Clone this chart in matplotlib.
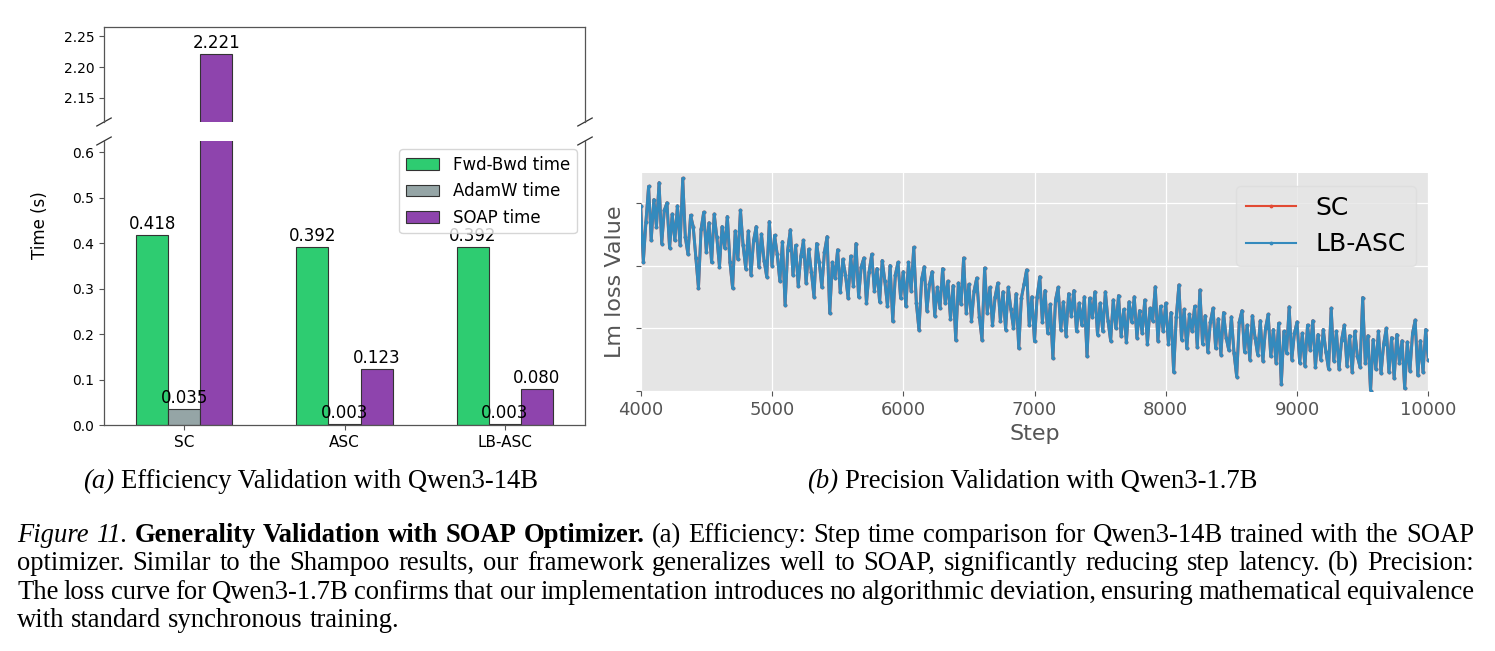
import matplotlib
matplotlib.use("Agg")
import matplotlib.pyplot as plt
import numpy as np

# ---------------- data ----------------
methods = ["SC", "ASC", "LB-ASC"]
series_names = ["Fwd-Bwd time", "AdamW time", "SOAP time"]
fwd_bwd_time = [0.418, 0.392, 0.392]
adamw_time = [0.035, 0.003, 0.003]
soap_time = [2.221, 0.123, 0.080]
bar_colors = ["#2ecc71", "#95a5a6", "#8e44ad"]

steps = list(range(4000, 10001, 20))
lb_asc_loss = [
    2.295, 2.206, 2.270, 2.326, 2.240, 2.305, 2.262, 2.332, 2.235, 2.288,
    2.300, 2.228, 2.282, 2.240, 2.295, 2.232, 2.339, 2.245, 2.218, 2.280,
    2.262, 2.212, 2.164, 2.258, 2.285,
    2.222, 2.268, 2.205, 2.282, 2.245, 2.198, 2.262, 2.228, 2.278, 2.205,
    2.164, 2.255, 2.210, 2.288, 2.232, 2.195, 2.255, 2.185, 2.240, 2.262,
    2.198, 2.250, 2.208, 2.182, 2.270,
    2.200, 2.248, 2.218, 2.175, 2.238, 2.137, 2.225, 2.257, 2.185, 2.232,
    2.168, 2.215, 2.240, 2.172, 2.226, 2.190, 2.150, 2.235, 2.205, 2.165,
    2.222, 2.246, 2.124, 2.205, 2.180,
    2.225, 2.158, 2.210, 2.185, 2.148, 2.215, 2.168, 2.235, 2.150, 2.198,
    2.212, 2.140, 2.190, 2.218, 2.160, 2.195, 2.142, 2.208, 2.175, 2.135,
    2.200, 2.111, 2.185, 2.205, 2.148,
    2.190, 2.135, 2.205, 2.160, 2.229, 2.140, 2.097, 2.178, 2.198, 2.128,
    2.170, 2.190, 2.120, 2.165, 2.132, 2.195, 2.140, 2.175, 2.115, 2.168,
    2.081, 2.172, 2.138, 2.212, 2.125,
    2.170, 2.112, 2.160, 2.180, 2.118, 2.081, 2.196, 2.125, 2.165, 2.105,
    2.150, 2.172, 2.112, 2.158, 2.098, 2.165, 2.130, 2.100, 2.155, 2.068,
    2.148, 2.170, 2.193, 2.105, 2.150,
    2.079, 2.150, 2.182, 2.110, 2.160, 2.092, 2.138, 2.052, 2.145, 2.165,
    2.098, 2.142, 2.088, 2.155, 2.120, 2.160, 2.095, 2.140, 2.105, 2.150,
    2.055, 2.148, 2.118, 2.158, 2.090,
    2.140, 2.095, 2.158, 2.112, 2.080, 2.145, 2.100, 2.152, 2.088, 2.130,
    2.078, 2.142, 2.110, 2.150, 2.085, 2.128, 2.092, 2.145, 2.075, 2.132,
    2.112, 2.166, 2.080, 2.135, 2.095,
    2.140, 2.075, 2.125, 2.030, 2.118, 2.169, 2.082, 2.130, 2.068, 2.122,
    2.095, 2.135, 2.070, 2.161, 2.075, 2.120, 2.062, 2.110, 2.132, 2.068,
    2.115, 2.058, 2.125, 2.085, 2.065,
    2.118, 2.060, 2.023, 2.110, 2.128, 2.062, 2.105, 2.050, 2.120, 2.085,
    2.058, 2.112, 2.048, 2.100, 2.122, 2.055, 2.098, 2.045, 2.108, 2.011,
    2.095, 2.060, 2.134, 2.050, 2.092,
    2.110, 2.045, 2.092, 2.040, 2.105, 2.065, 2.112, 2.038, 2.090, 2.050,
    2.098, 2.062, 2.035, 2.132, 2.048, 2.095, 2.035, 2.082, 2.105, 2.040,
    2.088, 2.030, 2.095, 2.055, 2.038,
    2.149, 2.045, 2.088, 2.000, 2.082, 2.035, 2.095, 2.028, 2.075, 2.100,
    2.030, 2.085, 2.020, 2.090, 2.045, 2.080, 2.004, 2.078, 2.032, 2.092,
    2.113, 2.025, 2.080, 2.030, 2.098, 2.050,
]
sc_loss = list(lb_asc_loss)
loss_xticks = [4000, 5000, 6000, 7000, 8000, 9000, 10000]
loss_yticks = [2.0, 2.1, 2.2, 2.3]

subcaption_a = [("(a)", "i"), ("Efficiency Validation with Qwen3-14B", "r")]
subcaption_b = [("(b)", "i"), ("Precision Validation with Qwen3-1.7B", "r")]
caption_lines = [
    [("Figure", "i"), ("11.", "i"), ("Generality", "b"), ("Validation", "b"), ("with", "b"),
     ("SOAP", "b"), ("Optimizer.", "b")] +
    [(w, "r") for w in "(a) Efficiency: Step time comparison for Qwen3-14B trained with the SOAP".split()],
    [(w, "r") for w in ("optimizer. Similar to the Shampoo results, our framework generalizes well to SOAP, "
                        "significantly reducing step latency. (b) Precision:").split()],
    [(w, "r") for w in ("The loss curve for Qwen3-1.7B confirms that our implementation introduces no "
                        "algorithmic deviation, ensuring mathematical equivalence").split()],
    [(w, "r") for w in "with standard synchronous training.".split()],
]

# ---------------- figure ----------------
W, H = 1495, 651
fig = plt.figure(figsize=(W / 100, H / 100), dpi=100)
fig.patch.set_facecolor("white")

def fx(px):
    return px / W

def fy(py):
    return 1 - py / H

spine_col = "#555555"
ax_top = fig.add_axes([fx(104), fy(122), fx(585) - fx(104), fy(26.7) - fy(122)])
ax_bot = fig.add_axes([fx(104), fy(425.3), fx(585) - fx(104), fy(141) - fy(425.3)])

x = np.arange(len(methods))
width = 0.2
all_series = [fwd_bwd_time, adamw_time, soap_time]
for ax in (ax_top, ax_bot):
    for i, (vals, col, name) in enumerate(zip(all_series, bar_colors, series_names)):
        ax.bar(x + (i - 1) * width, vals, width, color=col, edgecolor="#333333",
               linewidth=0.8, label=name)
    ax.set_xlim(-0.5, 2.5)
    for s in ax.spines.values():
        s.set_color(spine_col)
        s.set_linewidth(0.9)

ax_top.set_ylim(2.11, 2.266)
ax_bot.set_ylim(0, 0.625)
ax_top.set_yticks([2.15, 2.20, 2.25])
ax_top.set_yticklabels(["%.2f" % v for v in [2.15, 2.20, 2.25]], fontsize=10)
ax_bot.set_yticks([0.0, 0.1, 0.2, 0.3, 0.4, 0.5, 0.6])
ax_bot.set_yticklabels(["%.1f" % v for v in [0.0, 0.1, 0.2, 0.3, 0.4, 0.5, 0.6]], fontsize=10)
ax_top.spines["bottom"].set_visible(False)
ax_bot.spines["top"].set_visible(False)
ax_top.tick_params(axis="x", bottom=False, labelbottom=False)
ax_bot.set_xticks(x)
ax_bot.set_xticklabels(methods, fontsize=11)
for ax in (ax_top, ax_bot):
    ax.tick_params(axis="both", color=spine_col, labelcolor="black")

# value labels
bot_max = ax_bot.get_ylim()[1]
for i, vals in enumerate(all_series):
    for j, v in enumerate(vals):
        target = ax_top if v > bot_max else ax_bot
        target.annotate("%.3f" % v, (x[j] + (i - 1) * width, v), xytext=(0, 1.5),
                        textcoords="offset points", ha="center", va="bottom", fontsize=12)

ax_bot.legend(loc="upper right", fontsize=12)

fig.text(fx(40), fy(225), "Time (s)", rotation=90, ha="center", va="center", fontsize=12)

# break marks
def break_marks(ax, yfrac, dx_px=7.2, dy_px=4.0):
    bb = ax.get_position()
    dx = dx_px / (bb.width * W)
    dy = dy_px / (bb.height * H)
    for xf in (0, 1):
        ax.plot([xf - dx, xf + dx], [yfrac - dy, yfrac + dy], transform=ax.transAxes,
                color="#333333", lw=0.9, clip_on=False)

break_marks(ax_top, 0)
break_marks(ax_bot, 1)

# ---------------- right chart (ggplot-like) ----------------
gray_txt = "#555555"
ax_r = fig.add_axes([fx(640.7), fy(391), fx(1428.3) - fx(640.7), fy(173.3) - fy(391)])
ax_r.set_facecolor("#E5E5E5")
for s in ax_r.spines.values():
    s.set_visible(False)
ax_r.grid(True, color="white", linewidth=0.9)
ax_r.set_axisbelow(True)
ax_r.plot(steps, sc_loss, color="#E24A33", lw=2.1, marker=".", markersize=3.5, label="SC")
ax_r.plot(steps, lb_asc_loss, color="#348ABD", lw=2.1, marker=".", markersize=3.5, label="LB-ASC")
ax_r.set_xlim(4000, 10000)
ax_r.set_ylim(2.0, 2.347)
ax_r.set_xticks(loss_xticks)
ax_r.set_xticklabels([str(v) for v in loss_xticks], fontsize=13, color=gray_txt)
ax_r.set_yticks(loss_yticks)
ax_r.set_yticklabels([])
ax_r.tick_params(colors=gray_txt, which="both")
ax_r.set_xlabel("Step", fontsize=16, color=gray_txt)
ax_r.set_ylabel("Lm loss Value", fontsize=16, color=gray_txt)
leg = ax_r.legend(loc="upper right", fontsize=18, facecolor="#E5E5E5", edgecolor="#DDDDDD")
for ln in leg.get_lines():
    ln.set_linewidth(1.5)

# ---------------- captions ----------------
SERIF = "Liberation Serif"
CAP_FS = 19.2
fig.canvas.draw()
renderer = fig.canvas.get_renderer()

def make_texts(words, y_px):
    texts = []
    for w, st in words:
        kw = dict(family=SERIF, fontsize=CAP_FS, va="baseline", ha="left", color="black")
        if st == "i":
            kw["style"] = "italic"
        if st == "b":
            kw["weight"] = "bold"
        texts.append(fig.text(0, fy(y_px), w, **kw))
    widths = [t.get_window_extent(renderer).width for t in texts]
    return texts, widths

space_px = 0.25 * CAP_FS * 100 / 72

def place_centered(words, cx, y_px):
    texts, widths = make_texts(words, y_px)
    total = sum(widths) + space_px * (len(texts) - 1)
    xx = cx - total / 2
    for t, w in zip(texts, widths):
        t.set_x(fx(xx))
        xx += w + space_px

def place_justified(words, y_px, left=17, right=1474, justify=True):
    texts, widths = make_texts(words, y_px)
    gap = (right - left - sum(widths)) / (len(texts) - 1) if justify else space_px
    xx = left
    for t, w in zip(texts, widths):
        t.set_x(fx(xx))
        xx += w + gap

place_centered(subcaption_a, 310.5, 488)
place_centered(subcaption_b, 1032, 488)
baselines = [542, 570.3, 598.6, 627]
for k, (line, yb) in enumerate(zip(caption_lines, baselines)):
    place_justified(line, yb, justify=(k < len(caption_lines) - 1))

fig.savefig("out.png", dpi=100)
